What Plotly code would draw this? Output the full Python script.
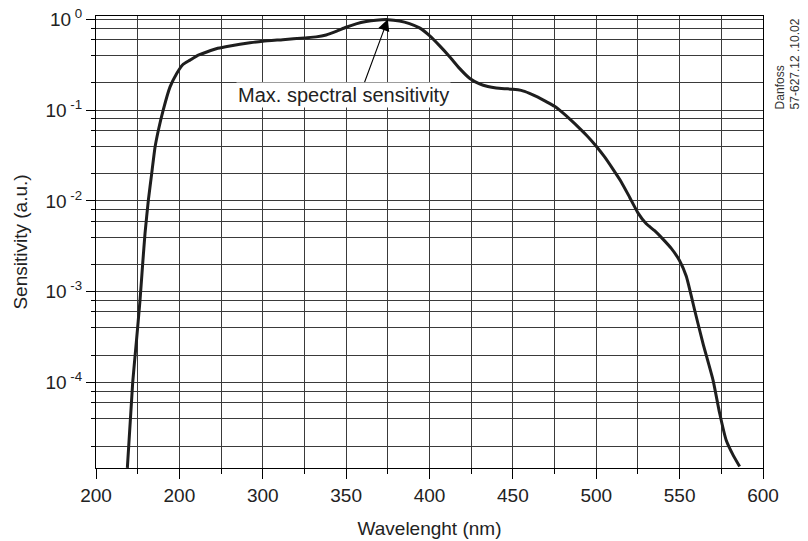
import math
import plotly.graph_objects as go

# ---- data ----
wavelength_nm = [218.8, 222.0, 224.2, 226.4, 228.0, 229.4, 231.4, 233.4, 235.4, 237.4,
                 240.3, 244.4, 248.4, 252.0, 256.4, 261.0, 266.4, 273.0, 280.3, 292.3,
                 300.0, 312.0, 325.0, 332.0, 338.0, 344.0, 350.0, 356.0, 362.0, 368.0,
                 375.0, 382.0, 388.0, 394.0, 400.0, 406.0, 412.2, 418.0, 424.2, 430.0,
                 435.0, 440.0, 445.0, 450.0, 455.0, 460.0, 465.0, 470.0, 475.0, 480.0,
                 485.0, 490.0, 495.0, 500.0, 505.0, 510.0, 515.0, 520.0, 525.0, 530.0,
                 535.0, 540.0, 545.0, 550.0, 554.0, 559.0, 564.0, 570.0, 574.0, 578.0,
                 582.0, 586.0]
sensitivity = [1.15e-5, 1.0e-4, 2.8e-4, 8.1e-4, 2.04e-3, 4.4e-3, 1.02e-2, 2.0e-2, 3.9e-2, 6.0e-2,
               0.100, 0.180, 0.253, 0.316, 0.355, 0.400, 0.436, 0.479, 0.509, 0.550,
               0.573, 0.596, 0.624, 0.640, 0.672, 0.735, 0.817, 0.891, 0.944, 0.977,
               0.991, 0.959, 0.897, 0.804, 0.661, 0.513, 0.385, 0.288, 0.223, 0.195,
               0.182, 0.175, 0.172, 0.170, 0.165, 0.153, 0.139, 0.124, 0.110, 0.093,
               0.077, 0.063, 0.051, 0.040, 0.0305, 0.0224, 0.0162, 0.0110, 0.0074, 0.0056,
               0.0047, 0.0038, 0.0030, 0.0022, 0.00148, 6.3e-4, 2.7e-4, 1.07e-4, 4.6e-5, 2.3e-5,
               1.6e-5, 1.19e-5]

x_tick_vals = [200, 250, 300, 350, 400, 450, 500, 550, 600]
x_tick_text = ["200", "200", "300", "350", "400", "450", "500", "550", "600"]
x_minor_vals = [225, 275, 325, 375, 425, 475, 525, 575]
y_tick_vals = [1, 0.1, 0.01, 0.001, 0.0001]
y_tick_text = ["10<sup> 0</sup>", "10<sup> -1</sup>", "10<sup> -2</sup>",
               "10<sup> -3</sup>", "10<sup> -4</sup>"]
y_minor_mult = [0.2, 0.4, 0.6, 0.8]
y_minor_vals = [m * d for d in [1, 0.1, 0.01, 0.001, 0.0001] for m in y_minor_mult]

peak_nm = 375
peak_value = 1.0
annotation_text = "Max. spectral sensitivity"
stamp_text = "Danfoss<br>57-627.12 .10.02"

FONT = "Liberation Sans, Arial, Helvetica, sans-serif"
GRID = "#3a3a3a"
TXT = "#222222"

fig = go.Figure()
fig.add_trace(go.Scatter(
    x=wavelength_nm, y=sensitivity, mode="lines",
    line=dict(color="#1e1e1e", width=3, shape="spline", smoothing=0.5),
    hoverinfo="skip", showlegend=False,
))

fig.update_layout(
    width=808, height=541,
    margin=dict(l=96, r=45, t=16, b=73),
    paper_bgcolor="white", plot_bgcolor="white",
    font=dict(family=FONT, size=19, color=TXT),
    xaxis=dict(
        range=[200, 600], tickmode="array", tickvals=x_tick_vals, ticktext=x_tick_text,
        ticks="outside", ticklen=10, tickwidth=1, tickcolor="black",
        showgrid=True, gridcolor=GRID, gridwidth=1,
        showline=True, linecolor="black", linewidth=1, mirror=True,
        zeroline=False, automargin=False,
        minor=dict(tickmode="array", tickvals=x_minor_vals,
                   ticks="outside", ticklen=5, tickcolor="black",
                   showgrid=True, gridcolor=GRID, gridwidth=1),
        title=dict(text="Wavelenght (nm)", font=dict(size=19, color=TXT), standoff=16),
        tickfont=dict(size=19, color=TXT),
    ),
    yaxis=dict(
        type="log", range=[-4.94, 0.036],
        tickmode="array", tickvals=y_tick_vals, ticktext=y_tick_text,
        ticks="outside", ticklen=9, tickwidth=1, tickcolor="black",
        showgrid=True, gridcolor=GRID, gridwidth=1,
        showline=True, linecolor="black", linewidth=1, mirror=True,
        zeroline=False, automargin=False,
        minor=dict(tickmode="array", tickvals=y_minor_vals,
                   ticks="outside", ticklen=4, tickcolor="black",
                   showgrid=True, gridcolor=GRID, gridwidth=1),
        title=dict(text="Sensitivity (a.u.)", font=dict(size=19, color=TXT), standoff=12),
        tickfont=dict(size=19, color=TXT),
    ),
)

# arrow pointing to the maximum
fig.add_annotation(
    x=peak_nm, y=math.log10(peak_value), xref="x", yref="y",
    text="", showarrow=True, arrowhead=2, arrowsize=2.1, arrowwidth=1.1,
    arrowcolor="black", ax=-24, ay=65, standoff=0,
)
# label text with white background
fig.add_annotation(
    x=348.2, y=-0.835, xref="x", yref="y", text=annotation_text, showarrow=False,
    font=dict(size=20, color=TXT), bgcolor="white", borderpad=1,
    xanchor="center", yanchor="middle",
)
# stamp on the right
fig.add_annotation(
    x=1.0375, y=0.893, xref="paper", yref="paper", text=stamp_text, showarrow=False,
    textangle=-90, align="left", font=dict(size=12, color="#333333"),
    xanchor="center", yanchor="middle",
)

fig.write_html("out.html", config={"displayModeBar": False},
               post_script="document.body.style.margin='0';")
